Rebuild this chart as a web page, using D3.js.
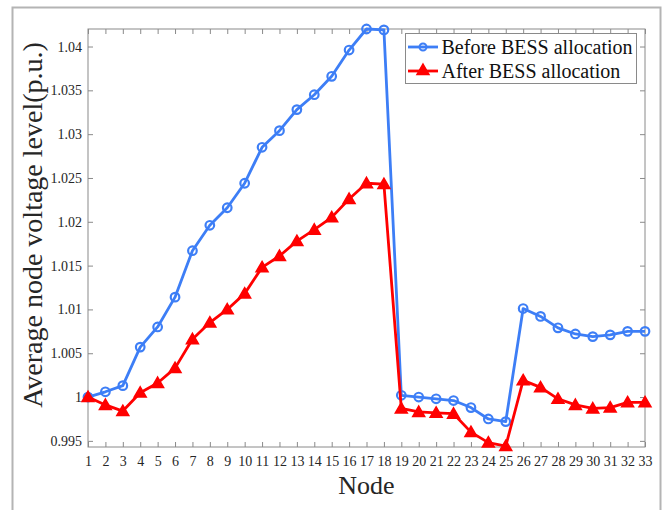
<!DOCTYPE html>
<html>
<head>
<meta charset="utf-8">
<script src="https://cdn.jsdelivr.net/npm/d3@7"></script>
<style>
  html, body { margin: 0; padding: 0; background: #fff; }
  svg { display: block; }
  svg text { font-family: "Liberation Serif", "Times New Roman", serif !important; }
</style>
</head>
<body>
<svg id="chart" width="665" height="510"></svg>
<script>
const nodes = d3.range(1, 34);
const before = [1.0000, 1.0006, 1.0013, 1.0057, 1.0080, 1.0114, 1.0167, 1.0196, 1.0216, 1.0244,
                1.0285, 1.0304, 1.0328, 1.0345, 1.0366, 1.0396, 1.0420, 1.0419, 1.0002, 1.0000,
                0.9998, 0.9996, 0.9988, 0.9975, 0.9972, 1.0101, 1.0092, 1.0079, 1.0072, 1.0069,
                1.0071, 1.0075, 1.0075];
const after = [1.0000, 0.9991, 0.9984, 1.0005, 1.0016, 1.0033, 1.0066, 1.0085, 1.0100, 1.0118,
               1.0148, 1.0161, 1.0178, 1.0191, 1.0205, 1.0226, 1.0244, 1.0243, 0.9987, 0.9983,
               0.9982, 0.9981, 0.9960, 0.9948, 0.9944, 1.0019, 1.0011, 0.9998, 0.9991, 0.9987,
               0.9988, 0.9994, 0.9994];
const yTicks = [0.995, 1, 1.005, 1.01, 1.015, 1.02, 1.025, 1.03, 1.035, 1.04];
const yTickLabels = ["0.995", "1", "1.005", "1.01", "1.015", "1.02", "1.025", "1.03", "1.035", "1.04"];
const seriesNames = ["Before BESS allocation", "After BESS allocation"];
const xTitle = "Node";
const yTitle = "Average node voltage level(p.u.)";

const blue = "#3d7ef6", red = "#ff0000", axisCol = "#8a8a8a", textCol = "#262626";
const serif = '"Liberation Serif", "Times New Roman", serif';
const svg = d3.select("#chart");

// outer frame
svg.append("rect").attr("x", 12.5).attr("y", 7.5).attr("width", 648).attr("height", 520)
  .attr("fill", "none").attr("stroke", "#b4b4b4").attr("stroke-width", 2);

const L = 88, R = 645, T = 29, B = 447;
const x = d3.scaleLinear().domain([1, 33]).range([L, R]);
const y = d3.scaleLinear().domain([0.9943, 1.042]).range([B, T]);

const g = svg.append("g");
// axes box
g.append("rect").attr("x", L).attr("y", T).attr("width", R - L).attr("height", B - T)
  .attr("fill", "none").attr("stroke", axisCol).attr("stroke-width", 1);

const tl = 5;
const xb = g.append("g").attr("transform", `translate(0,${B})`)
  .call(d3.axisBottom(x).tickValues(nodes).tickFormat(d3.format("d")).tickSizeInner(-tl).tickSizeOuter(0).tickPadding(9));
const xt = g.append("g").attr("transform", `translate(0,${T})`)
  .call(d3.axisTop(x).tickValues(nodes).tickFormat("").tickSizeInner(-tl).tickSizeOuter(0));
const yl = g.append("g").attr("transform", `translate(${L},0)`)
  .call(d3.axisLeft(y).tickValues(yTicks).tickFormat((d, i) => yTickLabels[i]).tickSizeInner(-tl).tickSizeOuter(0).tickPadding(6));
const yr = g.append("g").attr("transform", `translate(${R},0)`)
  .call(d3.axisRight(y).tickValues(yTicks).tickFormat("").tickSizeInner(-tl).tickSizeOuter(0));
[xb, xt, yl, yr].forEach(a => {
  a.attr("font-family", serif).attr("font-size", 14);
  a.select(".domain").remove();
  a.selectAll(".tick line").attr("stroke", axisCol);
  a.selectAll(".tick text").attr("fill", textCol).attr("font-family", serif).attr("font-size", 14);
});

// lines
const line = d3.line().x((d, i) => x(nodes[i])).y(d => y(d));
g.append("path").datum(before).attr("d", line).attr("fill", "none")
  .attr("stroke", blue).attr("stroke-width", 2.8).attr("stroke-linejoin", "round");
g.selectAll(".cb").data(before).enter().append("circle")
  .attr("cx", (d, i) => x(nodes[i])).attr("cy", d => y(d)).attr("r", 4.3)
  .attr("fill", "none").attr("stroke", blue).attr("stroke-width", 2.2);

g.append("path").datum(after).attr("d", line).attr("fill", "none")
  .attr("stroke", red).attr("stroke-width", 2.8).attr("stroke-linejoin", "round");
const tri = d3.symbol().type(d3.symbolTriangle).size(62);
g.selectAll(".ta").data(after).enter().append("path")
  .attr("d", tri).attr("transform", (d, i) => `translate(${x(nodes[i])},${y(d) + 1})`)
  .attr("fill", red).attr("stroke", red).attr("stroke-width", 1.5);

// legend
const lg = svg.append("g");
lg.append("rect").attr("x", 405.5).attr("y", 33.5).attr("width", 231).attr("height", 50)
  .attr("fill", "#fff").attr("stroke", axisCol).attr("stroke-width", 1);
const rows = [{name: seriesNames[0], col: blue, type: "c", cy: 47}, {name: seriesNames[1], col: red, type: "t", cy: 71}];
rows.forEach(r => {
  lg.append("line").attr("x1", 408).attr("x2", 438).attr("y1", r.cy).attr("y2", r.cy)
    .attr("stroke", r.col).attr("stroke-width", 2.8);
  if (r.type === "c") {
    lg.append("circle").attr("cx", 423).attr("cy", r.cy).attr("r", 3.5)
      .attr("fill", "none").attr("stroke", r.col).attr("stroke-width", 2);
  } else {
    lg.append("path").attr("d", tri).attr("transform", `translate(423,${r.cy})`)
      .attr("fill", r.col).attr("stroke", r.col).attr("stroke-width", 1.5);
  }
  lg.append("text").attr("x", 441.5).attr("y", r.cy).attr("dy", "0.35em")
    .attr("fill", "#111").attr("font-family", serif).style("font-size", "20px").text(r.name);
});

// titles
svg.append("text").attr("x", (L + R) / 2).attr("y", 494).attr("text-anchor", "middle")
  .attr("fill", textCol).attr("font-family", serif).style("font-size", "26px").text(xTitle);
svg.append("text").attr("transform", "translate(42,225) rotate(-90)").attr("text-anchor", "middle")
  .attr("fill", textCol).attr("font-family", serif).style("font-size", "28px").text(yTitle);
</script>
</body>
</html>
